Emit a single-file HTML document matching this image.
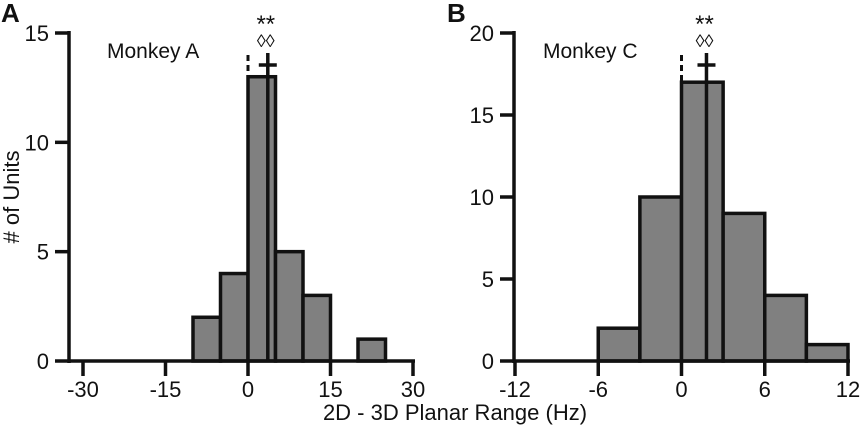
<!DOCTYPE html>
<html><head><meta charset="utf-8"><style>
body{margin:0;background:#fff}
svg{display:block;font-family:"Liberation Sans",Arial,sans-serif}
</style></head><body>
<svg id="c" width="861" height="431"></svg>
<script>
const binsA=[-10,-5,0,5,10,15,20];
const countsA=[2,4,13,5,3,0,1];
const ticksXA=[-30,-15,0,15,30];
const ticksYA=[0,5,10,15];
const meanA=3.6;
const binsB=[-6,-3,0,3,6,9];
const countsB=[2,10,17,9,4,1];
const ticksXB=[-12,-6,0,6,12];
const ticksYB=[0,5,10,15,20];
const meanB=1.8;
const NS='http://www.w3.org/2000/svg';
const svg=document.getElementById('c');
function mk(tag,attrs,parent){const e=document.createElementNS(NS,tag);for(const k in attrs)e.setAttribute(k,attrs[k]);(parent||svg).appendChild(e);return e;}
function panel(cfg){
  const g=mk('g',{});
  
  
  const xs=v=>cfg.x0+(v-cfg.xmin)/(cfg.xmax-cfg.xmin)*(cfg.x1-cfg.x0);
  const ys=v=>cfg.y0-(v/cfg.ymax)*(cfg.y0-cfg.y1);
  cfg.bins.forEach((b,i)=>{
    if(!cfg.counts[i])return;
    const r=mk('rect',{x:xs(b),y:ys(cfg.counts[i]),width:xs(b+cfg.bw)-xs(b),height:ys(0)-ys(cfg.counts[i]),fill:'#808080',stroke:'#111','stroke-width':3.5},g);
    
    
  });
  const ax=mk('line',{x1:cfg.yax,y1:cfg.y0,x2:xs(cfg.xmax)+2,y2:cfg.y0,stroke:'#111','stroke-width':3.5},g);
  
  const ay=mk('line',{x1:cfg.yax,y1:cfg.y0+2,x2:cfg.yax,y2:ys(cfg.ymax)-2,stroke:'#111','stroke-width':3.5},g);
  
  cfg.tx.forEach(t=>{
    mk('line',{x1:xs(t),y1:cfg.y0,x2:xs(t),y2:cfg.y0+15,stroke:'#111','stroke-width':3.5},g);
    const tt=mk('text',{x:xs(t),y:cfg.y0+36,'font-size':22,'text-anchor':'middle',fill:'#111'},g);
    tt.textContent=t;
  });
  cfg.ty.forEach(t=>{
    mk('line',{x1:cfg.yax-14,y1:ys(t),x2:cfg.yax,y2:ys(t),stroke:'#111','stroke-width':3.5},g);
    const tt=mk('text',{x:cfg.yax-20,y:ys(t)+8,'font-size':22,'text-anchor':'end',fill:'#111'},g);
    tt.textContent=t;
  });
  const dz=mk('line',{x1:xs(0),y1:cfg.y0,x2:xs(0),y2:52,stroke:'#111','stroke-width':3,'stroke-dasharray':'6,4'},g);
  
  const ml=mk('line',{x1:xs(cfg.mean),y1:cfg.y0,x2:xs(cfg.mean),y2:53,stroke:'#111','stroke-width':3.5},g);
  
  mk('line',{x1:xs(cfg.mean)-9,y1:65,x2:xs(cfg.mean)+9,y2:65,stroke:'#111','stroke-width':3.5},g);
  const st=mk('text',{x:xs(cfg.mean)-2,y:32,'font-size':24,'text-anchor':'middle',fill:'#111'},g);
  st.textContent='**';
  const dm=mk('text',{x:xs(cfg.mean)-2,y:47,'font-size':18,'text-anchor':'middle',fill:'#111'},g);
  dm.textContent='◊◊';
  const lt=mk('text',{x:cfg.labX,y:58,'font-size':21,fill:'#111'},g);
  lt.textContent=cfg.label;
  const pl=mk('text',{x:cfg.letX,y:22,'font-size':26,'font-weight':'bold',fill:'#111'},g);
  pl.textContent=cfg.letter;
}
panel({name:'panel-a',bins:binsA,counts:countsA,bw:5,tx:ticksXA,ty:ticksYA,mean:meanA,xmin:-30,xmax:30,x0:83,x1:413,ymax:15,y0:361,y1:33,yax:69,label:'Monkey A',labX:107,letter:'A',letX:1});
panel({name:'panel-b',bins:binsB,counts:countsB,bw:3,tx:ticksXB,ty:ticksYB,mean:meanB,xmin:-12,xmax:12,x0:515,x1:848,ymax:20,y0:361,y1:33,yax:514,label:'Monkey C',labX:543,letter:'B',letX:447});
const xl=mk('text',{x:455,y:420,'font-size':22,'text-anchor':'middle',fill:'#111'});
xl.textContent='2D - 3D Planar Range (Hz)';


const yl=mk('text',{x:0,y:0,'font-size':22,'text-anchor':'middle',fill:'#111',transform:'translate(19,197) rotate(-90)'});
yl.textContent='# of Units';


</script>
</body></html>
